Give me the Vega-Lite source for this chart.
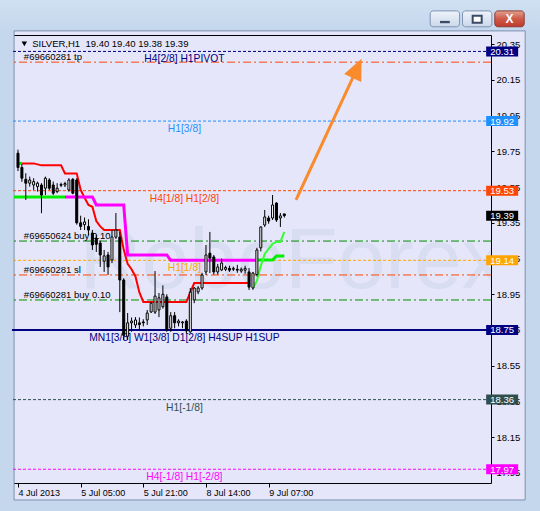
{
  "$schema": "https://vega.github.io/schema/vega-lite/v6.json",
  "width": 479,
  "height": 448,
  "autosize": {"type": "none"},
  "padding": {"left": 12, "top": 35, "right": 49, "bottom": 28},
  "background": "#E6E6FA",
  "title": {"text": "SILVER,H1", "anchor": "start", "dx": 18, "offset": 12, "fontSize": 12, "fontWeight": "normal", "font": "Liberation Sans", "color": "#1b1b1b", "zindex": 1},
  "config": {
    "view": {"stroke": "#000000", "strokeWidth": 1, "fill": "#E6E6FA"},
    "font": "Liberation Sans",
    "axis": {"grid": false, "domain": false, "tickColor": "#000000", "labelColor": "#000000", "labelFont": "Liberation Sans", "labelFlush": false, "labelOverlap": false},
    "axisX": {"tickSize": 4, "labelAlign": "left", "labelFontSize": 9, "labelPadding": 1},
    "axisY": {"tickSize": 3, "labelAlign": "left", "labelBaseline": "middle", "labelFontSize": 9.5, "labelPadding": 2}
  },
  "datasets": {
    "one": [{}],
    "candles": [
      {"i": 0, "o": 19.74, "h": 19.76, "l": 19.64, "c": 19.66},
      {"i": 1, "o": 19.66, "h": 19.68, "l": 19.58, "c": 19.60},
      {"i": 2, "o": 19.594, "h": 19.628, "l": 19.478, "c": 19.572},
      {"i": 3, "o": 19.572, "h": 19.609, "l": 19.553, "c": 19.59},
      {"i": 4, "o": 19.562, "h": 19.60, "l": 19.534, "c": 19.581},
      {"i": 5, "o": 19.553, "h": 19.581, "l": 19.525, "c": 19.572},
      {"i": 6, "o": 19.562, "h": 19.572, "l": 19.404, "c": 19.506},
      {"i": 7, "o": 19.544, "h": 19.609, "l": 19.506, "c": 19.60},
      {"i": 8, "o": 19.59, "h": 19.60, "l": 19.534, "c": 19.544},
      {"i": 9, "o": 19.562, "h": 19.581, "l": 19.506, "c": 19.516},
      {"i": 10, "o": 19.525, "h": 19.572, "l": 19.516, "c": 19.544},
      {"i": 11, "o": 19.56, "h": 19.575, "l": 19.55, "c": 19.565},
      {"i": 12, "o": 19.562, "h": 19.58, "l": 19.55, "c": 19.57},
      {"i": 13, "o": 19.534, "h": 19.60, "l": 19.525, "c": 19.59},
      {"i": 14, "o": 19.594, "h": 19.60, "l": 19.51, "c": 19.516},
      {"i": 15, "o": 19.59, "h": 19.60, "l": 19.34, "c": 19.35},
      {"i": 16, "o": 19.35, "h": 19.39, "l": 19.31, "c": 19.33},
      {"i": 17, "o": 19.34, "h": 19.38, "l": 19.31, "c": 19.355},
      {"i": 18, "o": 19.33, "h": 19.37, "l": 19.28, "c": 19.31},
      {"i": 19, "o": 19.293, "h": 19.31, "l": 19.198, "c": 19.226},
      {"i": 20, "o": 19.265, "h": 19.282, "l": 19.187, "c": 19.23},
      {"i": 21, "o": 19.237, "h": 19.25, "l": 19.103, "c": 19.17},
      {"i": 22, "o": 19.135, "h": 19.198, "l": 19.075, "c": 19.165},
      {"i": 23, "o": 19.17, "h": 19.187, "l": 19.058, "c": 19.103},
      {"i": 24, "o": 19.142, "h": 19.31, "l": 19.125, "c": 19.271},
      {"i": 25, "o": 19.27, "h": 19.405, "l": 19.26, "c": 19.31},
      {"i": 26, "o": 19.27, "h": 19.30, "l": 18.85, "c": 19.03},
      {"i": 27, "o": 19.03, "h": 19.04, "l": 18.695, "c": 18.72},
      {"i": 28, "o": 18.715, "h": 18.845, "l": 18.694, "c": 18.79},
      {"i": 29, "o": 18.79, "h": 18.82, "l": 18.74, "c": 18.80},
      {"i": 30, "o": 18.778, "h": 18.822, "l": 18.761, "c": 18.806},
      {"i": 31, "o": 18.79, "h": 18.82, "l": 18.75, "c": 18.78},
      {"i": 32, "o": 18.795, "h": 18.81, "l": 18.77, "c": 18.79},
      {"i": 33, "o": 18.806, "h": 18.862, "l": 18.778, "c": 18.845},
      {"i": 34, "o": 18.851, "h": 18.907, "l": 18.845, "c": 18.90},
      {"i": 35, "o": 18.85, "h": 19.08, "l": 18.84, "c": 18.94},
      {"i": 36, "o": 18.862, "h": 18.957, "l": 18.822, "c": 18.93},
      {"i": 37, "o": 18.88, "h": 19.0, "l": 18.87, "c": 18.95},
      {"i": 38, "o": 18.935, "h": 18.95, "l": 18.74, "c": 18.75},
      {"i": 39, "o": 18.76, "h": 18.85, "l": 18.74, "c": 18.83},
      {"i": 40, "o": 18.83, "h": 18.85, "l": 18.76, "c": 18.79},
      {"i": 41, "o": 18.79, "h": 18.81, "l": 18.77, "c": 18.80},
      {"i": 42, "o": 18.79, "h": 18.80, "l": 18.76, "c": 18.795},
      {"i": 43, "o": 18.80, "h": 18.81, "l": 18.73, "c": 18.745},
      {"i": 44, "o": 18.739, "h": 18.985, "l": 18.735, "c": 18.962},
      {"i": 45, "o": 18.918, "h": 18.99, "l": 18.90, "c": 18.985},
      {"i": 46, "o": 18.963, "h": 18.995, "l": 18.95, "c": 18.985},
      {"i": 47, "o": 18.985, "h": 19.07, "l": 18.975, "c": 19.058},
      {"i": 48, "o": 19.075, "h": 19.226, "l": 19.058, "c": 19.17},
      {"i": 49, "o": 19.18, "h": 19.299, "l": 19.069, "c": 19.153},
      {"i": 50, "o": 19.159, "h": 19.17, "l": 19.06, "c": 19.075},
      {"i": 51, "o": 19.075, "h": 19.12, "l": 19.06, "c": 19.103},
      {"i": 52, "o": 19.086, "h": 19.15, "l": 19.08, "c": 19.125},
      {"i": 53, "o": 19.09, "h": 19.11, "l": 19.08, "c": 19.10},
      {"i": 54, "o": 19.095, "h": 19.11, "l": 19.075, "c": 19.085},
      {"i": 55, "o": 19.09, "h": 19.105, "l": 19.08, "c": 19.095},
      {"i": 56, "o": 19.09, "h": 19.115, "l": 19.07, "c": 19.085},
      {"i": 57, "o": 19.08, "h": 19.10, "l": 19.07, "c": 19.09},
      {"i": 58, "o": 19.085, "h": 19.11, "l": 19.065, "c": 19.095},
      {"i": 59, "o": 19.075, "h": 19.097, "l": 18.974, "c": 18.99},
      {"i": 60, "o": 18.985, "h": 19.075, "l": 18.975, "c": 19.069},
      {"i": 61, "o": 19.06, "h": 19.21, "l": 19.05, "c": 19.198},
      {"i": 62, "o": 19.21, "h": 19.33, "l": 19.19, "c": 19.327},
      {"i": 63, "o": 19.338, "h": 19.422, "l": 19.327, "c": 19.383},
      {"i": 64, "o": 19.377, "h": 19.39, "l": 19.345, "c": 19.36},
      {"i": 65, "o": 19.377, "h": 19.506, "l": 19.366, "c": 19.45},
      {"i": 66, "o": 19.461, "h": 19.465, "l": 19.355, "c": 19.366},
      {"i": 67, "o": 19.377, "h": 19.405, "l": 19.327, "c": 19.389},
      {"i": 68, "o": 19.40, "h": 19.40, "l": 19.38, "c": 19.39}
    ],
    "bands": [
      {"band": "red", "seg": "r", "i": 1, "v": 19.683},
      {"band": "red", "seg": "r", "i": 4, "v": 19.683},
      {"band": "red", "seg": "r", "i": 6, "v": 19.672},
      {"band": "red", "seg": "r", "i": 11, "v": 19.672},
      {"band": "red", "seg": "r", "i": 12, "v": 19.627},
      {"band": "red", "seg": "r", "i": 15, "v": 19.627},
      {"band": "red", "seg": "r", "i": 16, "v": 19.535},
      {"band": "red", "seg": "r", "i": 17, "v": 19.49},
      {"band": "red", "seg": "r", "i": 18, "v": 19.45},
      {"band": "red", "seg": "r", "i": 19, "v": 19.44},
      {"band": "red", "seg": "r", "i": 20, "v": 19.36},
      {"band": "red", "seg": "r", "i": 21, "v": 19.33},
      {"band": "red", "seg": "r", "i": 22, "v": 19.31},
      {"band": "red", "seg": "r", "i": 26, "v": 19.31},
      {"band": "red", "seg": "r", "i": 27, "v": 19.20},
      {"band": "red", "seg": "r", "i": 28, "v": 19.12},
      {"band": "red", "seg": "r", "i": 29, "v": 19.09},
      {"band": "red", "seg": "r", "i": 30, "v": 19.05},
      {"band": "red", "seg": "r", "i": 31, "v": 18.96},
      {"band": "red", "seg": "r", "i": 32, "v": 18.907},
      {"band": "red", "seg": "r", "i": 43, "v": 18.907},
      {"band": "red", "seg": "r", "i": 44, "v": 18.96},
      {"band": "red", "seg": "r", "i": 45, "v": 19.013},
      {"band": "red", "seg": "r", "i": 59, "v": 19.013},
      {"band": "magenta", "seg": "m", "i": 12, "v": 19.495},
      {"band": "magenta", "seg": "m", "i": 19, "v": 19.495},
      {"band": "magenta", "seg": "m", "i": 20, "v": 19.45},
      {"band": "magenta", "seg": "m", "i": 27, "v": 19.45},
      {"band": "magenta", "seg": "m", "i": 28, "v": 19.17},
      {"band": "magenta", "seg": "m", "i": 38, "v": 19.17},
      {"band": "magenta", "seg": "m", "i": 39, "v": 19.14},
      {"band": "magenta", "seg": "m", "i": 61, "v": 19.14},
      {"band": "green", "seg": "g0", "i": 0, "v": 19.683},
      {"band": "green", "seg": "g0", "i": 1, "v": 19.683},
      {"band": "green", "seg": "g1", "i": -1, "v": 19.495},
      {"band": "green", "seg": "g1", "i": 12, "v": 19.495},
      {"band": "green", "seg": "g2", "i": 61, "v": 19.142},
      {"band": "green", "seg": "g2", "i": 65, "v": 19.142},
      {"band": "green", "seg": "g2", "i": 66, "v": 19.165},
      {"band": "green", "seg": "g2", "i": 68, "v": 19.165},
      {"band": "lime", "seg": "l", "i": 60, "v": 18.985},
      {"band": "lime", "seg": "l", "i": 61, "v": 19.025},
      {"band": "lime", "seg": "l", "i": 62, "v": 19.109},
      {"band": "lime", "seg": "l", "i": 63, "v": 19.176},
      {"band": "lime", "seg": "l", "i": 64, "v": 19.204},
      {"band": "lime", "seg": "l", "i": 65, "v": 19.232},
      {"band": "lime", "seg": "l", "i": 66, "v": 19.243},
      {"band": "lime", "seg": "l", "i": 67, "v": 19.243},
      {"band": "lime", "seg": "l", "i": 68, "v": 19.299}
    ],
    "levels": [
      {"p": 20.31, "name": "H4[2/8] H1PIVOT", "kind": "mm"},
      {"p": 20.25, "name": "#69660281 tp", "kind": "order"},
      {"p": 19.92, "name": "H1[3/8]", "kind": "mm"},
      {"p": 19.53, "name": "H4[1/8] H1[2/8]", "kind": "mm"},
      {"p": 19.248, "name": "#69650624 buy 0.10", "kind": "order"},
      {"p": 19.14, "name": "H1[1/8]", "kind": "mm"},
      {"p": 19.058, "name": "#69660281 sl", "kind": "order"},
      {"p": 18.918, "name": "#69660281 buy 0.10", "kind": "order"},
      {"p": 18.75, "name": "MN1[3/8] W1[3/8] D1[2/8] H4SUP H1SUP", "kind": "base"},
      {"p": 18.36, "name": "H1[-1/8]", "kind": "mm"},
      {"p": 17.97, "name": "H4[-1/8] H1[-2/8]", "kind": "mm"}
    ],
    "tags": [
      {"p": 20.31, "name": "H4[2/8] H1PIVOT"},
      {"p": 19.92, "name": "H1[3/8]"},
      {"p": 19.53, "name": "H4[1/8] H1[2/8]"},
      {"p": 19.39, "name": "Bid"},
      {"p": 19.14, "name": "H1[1/8]"},
      {"p": 18.75, "name": "MN1[3/8] W1[3/8] D1[2/8] H4SUP H1SUP"},
      {"p": 18.36, "name": "H1[-1/8]"},
      {"p": 17.97, "name": "H4[-1/8] H1[-2/8]"}
    ],
    "arrow": [
      {"i": 71, "p": 19.478},
      {"i": 86.6, "p": 20.215}
    ]
  },
  "layer": [
    {
      "data": {"name": "one"},
      "mark": {"type": "rect", "clip": false, "fill": {"gradient": "linear", "x1": 0, "y1": 0, "x2": 0, "y2": 1, "stops": [{"offset": 0, "color": "#DCE8F6"}, {"offset": 1, "color": "#C4D7ED"}]}},
      "encoding": {
        "x": {"datum": -5, "type": "quantitative", "scale": {"domain": [-0.25, 119.5]}, "axis": {"title": null, "orient": "bottom", "values": [0, 16, 32, 48, 64], "labelExpr": "datum.value == 0 ? '4 Jul 2013' : datum.value == 16 ? '5 Jul 05:00' : datum.value == 32 ? '5 Jul 21:00' : datum.value == 48 ? '8 Jul 14:00' : '9 Jul 07:00'"}},
        "x2": {"datum": 135},
        "y": {"datum": 20.425, "type": "quantitative", "scale": {"domain": [17.893, 20.402], "zero": false, "nice": false}, "axis": {"title": null, "orient": "right", "values": [17.95, 18.15, 18.35, 18.55, 18.75, 18.95, 19.15, 19.35, 19.55, 19.75, 19.95, 20.15, 20.35], "format": ".2f"}},
        "y2": {"datum": 20.75}
      }
    },
    {
      "data": {"name": "one"},
      "mark": {"type": "rect", "clip": false, "fill": "#C4D7ED"},
      "encoding": {
        "x": {"datum": -5, "type": "quantitative", "scale": {"domain": [-0.25, 119.5]}, "axis": {"title": null, "orient": "bottom", "values": [0, 16, 32, 48, 64], "labelExpr": "datum.value == 0 ? '4 Jul 2013' : datum.value == 16 ? '5 Jul 05:00' : datum.value == 32 ? '5 Jul 21:00' : datum.value == 48 ? '8 Jul 14:00' : '9 Jul 07:00'"}},
        "x2": {"datum": -1},
        "y": {"datum": 17.6, "type": "quantitative", "scale": {"domain": [17.893, 20.402], "zero": false, "nice": false}, "axis": {"title": null, "orient": "right", "values": [17.95, 18.15, 18.35, 18.55, 18.75, 18.95, 19.15, 19.35, 19.55, 19.75, 19.95, 20.15, 20.35], "format": ".2f"}},
        "y2": {"datum": 20.425}
      }
    },
    {
      "data": {"name": "one"},
      "mark": {"type": "rect", "clip": false, "fill": "#C4D7ED"},
      "encoding": {
        "x": {"datum": 129.5, "type": "quantitative", "scale": {"domain": [-0.25, 119.5]}, "axis": {"title": null, "orient": "bottom", "values": [0, 16, 32, 48, 64], "labelExpr": "datum.value == 0 ? '4 Jul 2013' : datum.value == 16 ? '5 Jul 05:00' : datum.value == 32 ? '5 Jul 21:00' : datum.value == 48 ? '8 Jul 14:00' : '9 Jul 07:00'"}},
        "x2": {"datum": 135},
        "y": {"datum": 17.6, "type": "quantitative", "scale": {"domain": [17.893, 20.402], "zero": false, "nice": false}, "axis": {"title": null, "orient": "right", "values": [17.95, 18.15, 18.35, 18.55, 18.75, 18.95, 19.15, 19.35, 19.55, 19.75, 19.95, 20.15, 20.35], "format": ".2f"}},
        "y2": {"datum": 20.425}
      }
    },
    {
      "data": {"name": "one"},
      "mark": {"type": "rect", "clip": false, "fill": "#C4D7ED"},
      "encoding": {
        "x": {"datum": -5, "type": "quantitative", "scale": {"domain": [-0.25, 119.5]}, "axis": {"title": null, "orient": "bottom", "values": [0, 16, 32, 48, 64], "labelExpr": "datum.value == 0 ? '4 Jul 2013' : datum.value == 16 ? '5 Jul 05:00' : datum.value == 32 ? '5 Jul 21:00' : datum.value == 48 ? '8 Jul 14:00' : '9 Jul 07:00'"}},
        "x2": {"datum": 135},
        "y": {"datum": 17.6, "type": "quantitative", "scale": {"domain": [17.893, 20.402], "zero": false, "nice": false}, "axis": {"title": null, "orient": "right", "values": [17.95, 18.15, 18.35, 18.55, 18.75, 18.95, 19.15, 19.35, 19.55, 19.75, 19.95, 20.15, 20.35], "format": ".2f"}},
        "y2": {"datum": 17.798}
      }
    },
    {
      "data": {"name": "one"},
      "mark": {"type": "rect", "clip": false, "fill": "transparent", "stroke": "#7C8FAE", "strokeWidth": 1},
      "encoding": {
        "x": {"datum": -1, "type": "quantitative", "scale": {"domain": [-0.25, 119.5]}, "axis": {"title": null, "orient": "bottom", "values": [0, 16, 32, 48, 64], "labelExpr": "datum.value == 0 ? '4 Jul 2013' : datum.value == 16 ? '5 Jul 05:00' : datum.value == 32 ? '5 Jul 21:00' : datum.value == 48 ? '8 Jul 14:00' : '9 Jul 07:00'"}},
        "x2": {"datum": 129.5},
        "y": {"datum": 17.798, "type": "quantitative", "scale": {"domain": [17.893, 20.402], "zero": false, "nice": false}, "axis": {"title": null, "orient": "right", "values": [17.95, 18.15, 18.35, 18.55, 18.75, 18.95, 19.15, 19.35, 19.55, 19.75, 19.95, 20.15, 20.35], "format": ".2f"}},
        "y2": {"datum": 20.425}
      }
    },
    {
      "data": {"name": "one"},
      "mark": {"type": "rect", "clip": false, "cornerRadius": 3, "stroke": "#7F93B2", "strokeWidth": 1, "fill": {"gradient": "linear", "x1": 0, "y1": 0, "x2": 0, "y2": 1, "stops": [{"offset": 0, "color": "#EEF3FA"}, {"offset": 1, "color": "#CBD8EA"}]}},
      "encoding": {
        "x": {"datum": 105.25, "type": "quantitative", "scale": {"domain": [-0.25, 119.5]}, "axis": {"title": null, "orient": "bottom", "values": [0, 16, 32, 48, 64], "labelExpr": "datum.value == 0 ? '4 Jul 2013' : datum.value == 16 ? '5 Jul 05:00' : datum.value == 32 ? '5 Jul 21:00' : datum.value == 48 ? '8 Jul 14:00' : '9 Jul 07:00'"}},
        "x2": {"datum": 112.75},
        "y": {"datum": 20.448, "type": "quantitative", "scale": {"domain": [17.893, 20.402], "zero": false, "nice": false}, "axis": {"title": null, "orient": "right", "values": [17.95, 18.15, 18.35, 18.55, 18.75, 18.95, 19.15, 19.35, 19.55, 19.75, 19.95, 20.15, 20.35], "format": ".2f"}},
        "y2": {"datum": 20.537}
      }
    },
    {
      "data": {"name": "one"},
      "mark": {"type": "rect", "clip": false, "cornerRadius": 3, "stroke": "#7F93B2", "strokeWidth": 1, "fill": {"gradient": "linear", "x1": 0, "y1": 0, "x2": 0, "y2": 1, "stops": [{"offset": 0, "color": "#EEF3FA"}, {"offset": 1, "color": "#CBD8EA"}]}},
      "encoding": {
        "x": {"datum": 113.5, "type": "quantitative", "scale": {"domain": [-0.25, 119.5]}, "axis": {"title": null, "orient": "bottom", "values": [0, 16, 32, 48, 64], "labelExpr": "datum.value == 0 ? '4 Jul 2013' : datum.value == 16 ? '5 Jul 05:00' : datum.value == 32 ? '5 Jul 21:00' : datum.value == 48 ? '8 Jul 14:00' : '9 Jul 07:00'"}},
        "x2": {"datum": 121},
        "y": {"datum": 20.448, "type": "quantitative", "scale": {"domain": [17.893, 20.402], "zero": false, "nice": false}, "axis": {"title": null, "orient": "right", "values": [17.95, 18.15, 18.35, 18.55, 18.75, 18.95, 19.15, 19.35, 19.55, 19.75, 19.95, 20.15, 20.35], "format": ".2f"}},
        "y2": {"datum": 20.537}
      }
    },
    {
      "data": {"name": "one"},
      "mark": {"type": "rect", "clip": false, "cornerRadius": 3, "stroke": "#8B3A33", "strokeWidth": 1, "fill": {"gradient": "linear", "x1": 0, "y1": 0, "x2": 0, "y2": 1, "stops": [{"offset": 0, "color": "#E3A08F"}, {"offset": 0.5, "color": "#CF5A48"}, {"offset": 1, "color": "#C0392B"}]}},
      "encoding": {
        "x": {"datum": 121.75, "type": "quantitative", "scale": {"domain": [-0.25, 119.5]}, "axis": {"title": null, "orient": "bottom", "values": [0, 16, 32, 48, 64], "labelExpr": "datum.value == 0 ? '4 Jul 2013' : datum.value == 16 ? '5 Jul 05:00' : datum.value == 32 ? '5 Jul 21:00' : datum.value == 48 ? '8 Jul 14:00' : '9 Jul 07:00'"}},
        "x2": {"datum": 129.25},
        "y": {"datum": 20.448, "type": "quantitative", "scale": {"domain": [17.893, 20.402], "zero": false, "nice": false}, "axis": {"title": null, "orient": "right", "values": [17.95, 18.15, 18.35, 18.55, 18.75, 18.95, 19.15, 19.35, 19.55, 19.75, 19.95, 20.15, 20.35], "format": ".2f"}},
        "y2": {"datum": 20.537}
      }
    },
    {
      "data": {"name": "one"},
      "mark": {"type": "rect", "clip": false, "fill": "#3A4A64"},
      "encoding": {
        "x": {"datum": 107.75, "type": "quantitative", "scale": {"domain": [-0.25, 119.5]}, "axis": {"title": null, "orient": "bottom", "values": [0, 16, 32, 48, 64], "labelExpr": "datum.value == 0 ? '4 Jul 2013' : datum.value == 16 ? '5 Jul 05:00' : datum.value == 32 ? '5 Jul 21:00' : datum.value == 48 ? '8 Jul 14:00' : '9 Jul 07:00'"}},
        "x2": {"datum": 110.25},
        "y": {"datum": 20.468, "type": "quantitative", "scale": {"domain": [17.893, 20.402], "zero": false, "nice": false}, "axis": {"title": null, "orient": "right", "values": [17.95, 18.15, 18.35, 18.55, 18.75, 18.95, 19.15, 19.35, 19.55, 19.75, 19.95, 20.15, 20.35], "format": ".2f"}},
        "y2": {"datum": 20.481}
      }
    },
    {
      "data": {"name": "one"},
      "mark": {"type": "rect", "clip": false, "fill": "#FFFFFF", "stroke": "#3A4A64", "strokeWidth": 2},
      "encoding": {
        "x": {"datum": 116.1, "type": "quantitative", "scale": {"domain": [-0.25, 119.5]}, "axis": {"title": null, "orient": "bottom", "values": [0, 16, 32, 48, 64], "labelExpr": "datum.value == 0 ? '4 Jul 2013' : datum.value == 16 ? '5 Jul 05:00' : datum.value == 32 ? '5 Jul 21:00' : datum.value == 48 ? '8 Jul 14:00' : '9 Jul 07:00'"}},
        "x2": {"datum": 118.4},
        "y": {"datum": 20.47, "type": "quantitative", "scale": {"domain": [17.893, 20.402], "zero": false, "nice": false}, "axis": {"title": null, "orient": "right", "values": [17.95, 18.15, 18.35, 18.55, 18.75, 18.95, 19.15, 19.35, 19.55, 19.75, 19.95, 20.15, 20.35], "format": ".2f"}},
        "y2": {"datum": 20.51}
      }
    },
    {
      "data": {"name": "one"},
      "mark": {"type": "text", "clip": false, "text": "X", "font": "Liberation Sans", "fontWeight": "bold", "fontSize": 12, "color": "#FFFFFF", "align": "center", "baseline": "middle"},
      "encoding": {
        "x": {"datum": 125.5, "type": "quantitative", "scale": {"domain": [-0.25, 119.5]}, "axis": {"title": null, "orient": "bottom", "values": [0, 16, 32, 48, 64], "labelExpr": "datum.value == 0 ? '4 Jul 2013' : datum.value == 16 ? '5 Jul 05:00' : datum.value == 32 ? '5 Jul 21:00' : datum.value == 48 ? '8 Jul 14:00' : '9 Jul 07:00'"}},
        "y": {"datum": 20.492, "type": "quantitative", "scale": {"domain": [17.893, 20.402], "zero": false, "nice": false}, "axis": {"title": null, "orient": "right", "values": [17.95, 18.15, 18.35, 18.55, 18.75, 18.95, 19.15, 19.35, 19.55, 19.75, 19.95, 20.15, 20.35], "format": ".2f"}}
      }
    },
    {
      "data": {"name": "one"},
      "mark": {"type": "text", "clip": true, "text": "RoboForex", "font": "Liberation Sans", "fontSize": 86, "color": "#D8DDF1", "align": "center", "baseline": "middle"},
      "encoding": {
        "x": {"datum": 70, "type": "quantitative", "scale": {"domain": [-0.25, 119.5]}, "axis": {"title": null, "orient": "bottom", "values": [0, 16, 32, 48, 64], "labelExpr": "datum.value == 0 ? '4 Jul 2013' : datum.value == 16 ? '5 Jul 05:00' : datum.value == 32 ? '5 Jul 21:00' : datum.value == 48 ? '8 Jul 14:00' : '9 Jul 07:00'"}},
        "y": {"datum": 19.13, "type": "quantitative", "scale": {"domain": [17.893, 20.402], "zero": false, "nice": false}, "axis": {"title": null, "orient": "right", "values": [17.95, 18.15, 18.35, 18.55, 18.75, 18.95, 19.15, 19.35, 19.55, 19.75, 19.95, 20.15, 20.35], "format": ".2f"}}
      }
    },
    {
      "data": {"name": "levels"},
      "mark": {"type": "rule", "clip": true},
      "encoding": {
        "y": {"field": "p", "type": "quantitative", "scale": {"domain": [17.893, 20.402], "zero": false, "nice": false}, "axis": {"title": null, "orient": "right", "values": [17.95, 18.15, 18.35, 18.55, 18.75, 18.95, 19.15, 19.35, 19.55, 19.75, 19.95, 20.15, 20.35], "format": ".2f"}},
        "color": {"field": "name", "type": "nominal", "legend": null, "scale": {
          "domain": ["H4[2/8] H1PIVOT", "#69660281 tp", "H1[3/8]", "H4[1/8] H1[2/8]", "#69650624 buy 0.10", "H1[1/8]", "#69660281 sl", "#69660281 buy 0.10", "MN1[3/8] W1[3/8] D1[2/8] H4SUP H1SUP", "H1[-1/8]", "H4[-1/8] H1[-2/8]", "Bid"],
          "range": ["#000080", "#FF4500", "#1E90FF", "#FF4500", "#008C00", "#FFA500", "#FF4500", "#008C00", "#000080", "#2F4F4F", "#FF00FF", "#000000"]}},
        "strokeDash": {"field": "kind", "type": "nominal", "legend": null, "scale": {"domain": ["mm", "order", "base"], "range": [[3, 2], [8, 3, 2, 3], [1, 0]]}},
        "strokeWidth": {"condition": {"test": "datum.kind == 'base'", "value": 2}, "value": 1}
      }
    },
    {
      "data": {"name": "levels"},
      "transform": [{"filter": "datum.kind != 'order'"}],
      "mark": {"type": "text", "clip": true, "font": "Liberation Sans", "fontSize": 10.3, "align": "center", "baseline": "middle", "dy": 8},
      "encoding": {
        "x": {"datum": 42.5, "type": "quantitative", "scale": {"domain": [-0.25, 119.5]}, "axis": {"title": null, "orient": "bottom", "values": [0, 16, 32, 48, 64], "labelExpr": "datum.value == 0 ? '4 Jul 2013' : datum.value == 16 ? '5 Jul 05:00' : datum.value == 32 ? '5 Jul 21:00' : datum.value == 48 ? '8 Jul 14:00' : '9 Jul 07:00'"}},
        "y": {"field": "p", "type": "quantitative", "scale": {"domain": [17.893, 20.402], "zero": false, "nice": false}, "axis": {"title": null, "orient": "right", "values": [17.95, 18.15, 18.35, 18.55, 18.75, 18.95, 19.15, 19.35, 19.55, 19.75, 19.95, 20.15, 20.35], "format": ".2f"}},
        "text": {"field": "name"},
        "color": {"field": "name", "type": "nominal", "legend": null}
      }
    },
    {
      "data": {"name": "levels"},
      "transform": [{"filter": "datum.kind == 'order'"}],
      "mark": {"type": "text", "clip": true, "font": "Liberation Sans", "fontSize": 9.5, "align": "left", "baseline": "alphabetic", "dy": -2, "color": "#000000"},
      "encoding": {
        "x": {"datum": 1.5, "type": "quantitative", "scale": {"domain": [-0.25, 119.5]}, "axis": {"title": null, "orient": "bottom", "values": [0, 16, 32, 48, 64], "labelExpr": "datum.value == 0 ? '4 Jul 2013' : datum.value == 16 ? '5 Jul 05:00' : datum.value == 32 ? '5 Jul 21:00' : datum.value == 48 ? '8 Jul 14:00' : '9 Jul 07:00'"}},
        "y": {"field": "p", "type": "quantitative", "scale": {"domain": [17.893, 20.402], "zero": false, "nice": false}, "axis": {"title": null, "orient": "right", "values": [17.95, 18.15, 18.35, 18.55, 18.75, 18.95, 19.15, 19.35, 19.55, 19.75, 19.95, 20.15, 20.35], "format": ".2f"}},
        "text": {"field": "name"}
      }
    },
    {
      "data": {"name": "bands"},
      "transform": [{"filter": "datum.band == 'red'"}],
      "mark": {"type": "line", "clip": true, "color": "#FF0000", "strokeWidth": 2},
      "encoding": {
        "x": {"field": "i", "type": "quantitative", "scale": {"domain": [-0.25, 119.5]}, "axis": {"title": null, "orient": "bottom", "values": [0, 16, 32, 48, 64], "labelExpr": "datum.value == 0 ? '4 Jul 2013' : datum.value == 16 ? '5 Jul 05:00' : datum.value == 32 ? '5 Jul 21:00' : datum.value == 48 ? '8 Jul 14:00' : '9 Jul 07:00'"}},
        "y": {"field": "v", "type": "quantitative", "scale": {"domain": [17.893, 20.402], "zero": false, "nice": false}, "axis": {"title": null, "orient": "right", "values": [17.95, 18.15, 18.35, 18.55, 18.75, 18.95, 19.15, 19.35, 19.55, 19.75, 19.95, 20.15, 20.35], "format": ".2f"}},
        "detail": {"field": "seg"}
      }
    },
    {
      "data": {"name": "bands"},
      "transform": [{"filter": "datum.band == 'magenta'"}],
      "mark": {"type": "line", "clip": true, "color": "#FF00FF", "strokeWidth": 3},
      "encoding": {
        "x": {"field": "i", "type": "quantitative", "scale": {"domain": [-0.25, 119.5]}, "axis": {"title": null, "orient": "bottom", "values": [0, 16, 32, 48, 64], "labelExpr": "datum.value == 0 ? '4 Jul 2013' : datum.value == 16 ? '5 Jul 05:00' : datum.value == 32 ? '5 Jul 21:00' : datum.value == 48 ? '8 Jul 14:00' : '9 Jul 07:00'"}},
        "y": {"field": "v", "type": "quantitative", "scale": {"domain": [17.893, 20.402], "zero": false, "nice": false}, "axis": {"title": null, "orient": "right", "values": [17.95, 18.15, 18.35, 18.55, 18.75, 18.95, 19.15, 19.35, 19.55, 19.75, 19.95, 20.15, 20.35], "format": ".2f"}},
        "detail": {"field": "seg"}
      }
    },
    {
      "data": {"name": "bands"},
      "transform": [{"filter": "datum.band == 'green'"}],
      "mark": {"type": "line", "clip": true, "color": "#00EE00", "strokeWidth": 3},
      "encoding": {
        "x": {"field": "i", "type": "quantitative", "scale": {"domain": [-0.25, 119.5]}, "axis": {"title": null, "orient": "bottom", "values": [0, 16, 32, 48, 64], "labelExpr": "datum.value == 0 ? '4 Jul 2013' : datum.value == 16 ? '5 Jul 05:00' : datum.value == 32 ? '5 Jul 21:00' : datum.value == 48 ? '8 Jul 14:00' : '9 Jul 07:00'"}},
        "y": {"field": "v", "type": "quantitative", "scale": {"domain": [17.893, 20.402], "zero": false, "nice": false}, "axis": {"title": null, "orient": "right", "values": [17.95, 18.15, 18.35, 18.55, 18.75, 18.95, 19.15, 19.35, 19.55, 19.75, 19.95, 20.15, 20.35], "format": ".2f"}},
        "detail": {"field": "seg"}
      }
    },
    {
      "data": {"name": "bands"},
      "transform": [{"filter": "datum.band == 'lime'"}],
      "mark": {"type": "line", "clip": true, "color": "#33FF33", "strokeWidth": 2},
      "encoding": {
        "x": {"field": "i", "type": "quantitative", "scale": {"domain": [-0.25, 119.5]}, "axis": {"title": null, "orient": "bottom", "values": [0, 16, 32, 48, 64], "labelExpr": "datum.value == 0 ? '4 Jul 2013' : datum.value == 16 ? '5 Jul 05:00' : datum.value == 32 ? '5 Jul 21:00' : datum.value == 48 ? '8 Jul 14:00' : '9 Jul 07:00'"}},
        "y": {"field": "v", "type": "quantitative", "scale": {"domain": [17.893, 20.402], "zero": false, "nice": false}, "axis": {"title": null, "orient": "right", "values": [17.95, 18.15, 18.35, 18.55, 18.75, 18.95, 19.15, 19.35, 19.55, 19.75, 19.95, 20.15, 20.35], "format": ".2f"}},
        "detail": {"field": "seg"}
      }
    },
    {
      "data": {"name": "candles"},
      "mark": {"type": "rule", "clip": true, "color": "#000000", "strokeWidth": 1},
      "encoding": {
        "x": {"field": "i", "type": "quantitative", "scale": {"domain": [-0.25, 119.5]}, "axis": {"title": null, "orient": "bottom", "values": [0, 16, 32, 48, 64], "labelExpr": "datum.value == 0 ? '4 Jul 2013' : datum.value == 16 ? '5 Jul 05:00' : datum.value == 32 ? '5 Jul 21:00' : datum.value == 48 ? '8 Jul 14:00' : '9 Jul 07:00'"}},
        "y": {"field": "l", "type": "quantitative", "scale": {"domain": [17.893, 20.402], "zero": false, "nice": false}, "axis": {"title": null, "orient": "right", "values": [17.95, 18.15, 18.35, 18.55, 18.75, 18.95, 19.15, 19.35, 19.55, 19.75, 19.95, 20.15, 20.35], "format": ".2f"}},
        "y2": {"field": "h"}
      }
    },
    {
      "data": {"name": "candles"},
      "mark": {"type": "bar", "clip": true, "width": 2, "stroke": "#000000", "strokeWidth": 1},
      "encoding": {
        "x": {"field": "i", "type": "quantitative", "scale": {"domain": [-0.25, 119.5]}, "axis": {"title": null, "orient": "bottom", "values": [0, 16, 32, 48, 64], "labelExpr": "datum.value == 0 ? '4 Jul 2013' : datum.value == 16 ? '5 Jul 05:00' : datum.value == 32 ? '5 Jul 21:00' : datum.value == 48 ? '8 Jul 14:00' : '9 Jul 07:00'"}},
        "y": {"field": "o", "type": "quantitative", "scale": {"domain": [17.893, 20.402], "zero": false, "nice": false}, "axis": {"title": null, "orient": "right", "values": [17.95, 18.15, 18.35, 18.55, 18.75, 18.95, 19.15, 19.35, 19.55, 19.75, 19.95, 20.15, 20.35], "format": ".2f"}},
        "y2": {"field": "c"},
        "fill": {"condition": {"test": "datum.c > datum.o", "value": "#FFFFFF"}, "value": "#000000"}
      }
    },
    {
      "data": {"name": "arrow"},
      "mark": {"type": "line", "clip": false, "color": "#F98B2C", "strokeWidth": 3},
      "encoding": {
        "x": {"field": "i", "type": "quantitative", "scale": {"domain": [-0.25, 119.5]}, "axis": {"title": null, "orient": "bottom", "values": [0, 16, 32, 48, 64], "labelExpr": "datum.value == 0 ? '4 Jul 2013' : datum.value == 16 ? '5 Jul 05:00' : datum.value == 32 ? '5 Jul 21:00' : datum.value == 48 ? '8 Jul 14:00' : '9 Jul 07:00'"}},
        "y": {"field": "p", "type": "quantitative", "scale": {"domain": [17.893, 20.402], "zero": false, "nice": false}, "axis": {"title": null, "orient": "right", "values": [17.95, 18.15, 18.35, 18.55, 18.75, 18.95, 19.15, 19.35, 19.55, 19.75, 19.95, 20.15, 20.35], "format": ".2f"}}
      }
    },
    {
      "data": {"name": "arrow"},
      "transform": [{"filter": "datum.i > 80"}],
      "mark": {"type": "point", "clip": false, "shape": "M0,-1L0.9,1L-0.9,1Z", "size": 441, "angle": 25, "filled": true, "color": "#F98B2C", "opacity": 1},
      "encoding": {
        "x": {"field": "i", "type": "quantitative", "scale": {"domain": [-0.25, 119.5]}, "axis": {"title": null, "orient": "bottom", "values": [0, 16, 32, 48, 64], "labelExpr": "datum.value == 0 ? '4 Jul 2013' : datum.value == 16 ? '5 Jul 05:00' : datum.value == 32 ? '5 Jul 21:00' : datum.value == 48 ? '8 Jul 14:00' : '9 Jul 07:00'"}},
        "y": {"field": "p", "type": "quantitative", "scale": {"domain": [17.893, 20.402], "zero": false, "nice": false}, "axis": {"title": null, "orient": "right", "values": [17.95, 18.15, 18.35, 18.55, 18.75, 18.95, 19.15, 19.35, 19.55, 19.75, 19.95, 20.15, 20.35], "format": ".2f"}}
      }
    },
    {
      "data": {"name": "one"},
      "mark": {"type": "point", "clip": false, "shape": "triangle-down", "size": 30, "filled": true, "color": "#000000", "opacity": 1},
      "encoding": {
        "x": {"datum": 1.625, "type": "quantitative", "scale": {"domain": [-0.25, 119.5]}, "axis": {"title": null, "orient": "bottom", "values": [0, 16, 32, 48, 64], "labelExpr": "datum.value == 0 ? '4 Jul 2013' : datum.value == 16 ? '5 Jul 05:00' : datum.value == 32 ? '5 Jul 21:00' : datum.value == 48 ? '8 Jul 14:00' : '9 Jul 07:00'"}},
        "y": {"datum": 20.352, "type": "quantitative", "scale": {"domain": [17.893, 20.402], "zero": false, "nice": false}, "axis": {"title": null, "orient": "right", "values": [17.95, 18.15, 18.35, 18.55, 18.75, 18.95, 19.15, 19.35, 19.55, 19.75, 19.95, 20.15, 20.35], "format": ".2f"}}
      }
    },
    {
      "data": {"name": "one"},
      "mark": {"type": "text", "clip": false, "text": "SILVER,H1\u00a0 19.40 19.40 19.38 19.39", "font": "Liberation Sans", "fontSize": 9.5, "align": "left", "baseline": "middle", "color": "#000000"},
      "encoding": {
        "x": {"datum": 3.65, "type": "quantitative", "scale": {"domain": [-0.25, 119.5]}, "axis": {"title": null, "orient": "bottom", "values": [0, 16, 32, 48, 64], "labelExpr": "datum.value == 0 ? '4 Jul 2013' : datum.value == 16 ? '5 Jul 05:00' : datum.value == 32 ? '5 Jul 21:00' : datum.value == 48 ? '8 Jul 14:00' : '9 Jul 07:00'"}},
        "y": {"datum": 20.352, "type": "quantitative", "scale": {"domain": [17.893, 20.402], "zero": false, "nice": false}, "axis": {"title": null, "orient": "right", "values": [17.95, 18.15, 18.35, 18.55, 18.75, 18.95, 19.15, 19.35, 19.55, 19.75, 19.95, 20.15, 20.35], "format": ".2f"}}
      }
    },
    {
      "data": {"name": "tags"},
      "mark": {"type": "tick", "clip": false, "orient": "horizontal", "thickness": 10, "size": 32, "opacity": 1},
      "encoding": {
        "x": {"datum": 123.625, "type": "quantitative", "scale": {"domain": [-0.25, 119.5]}, "axis": {"title": null, "orient": "bottom", "values": [0, 16, 32, 48, 64], "labelExpr": "datum.value == 0 ? '4 Jul 2013' : datum.value == 16 ? '5 Jul 05:00' : datum.value == 32 ? '5 Jul 21:00' : datum.value == 48 ? '8 Jul 14:00' : '9 Jul 07:00'"}},
        "y": {"field": "p", "type": "quantitative", "scale": {"domain": [17.893, 20.402], "zero": false, "nice": false}, "axis": {"title": null, "orient": "right", "values": [17.95, 18.15, 18.35, 18.55, 18.75, 18.95, 19.15, 19.35, 19.55, 19.75, 19.95, 20.15, 20.35], "format": ".2f"}},
        "color": {"field": "name", "type": "nominal", "legend": null}
      }
    },
    {
      "data": {"name": "tags"},
      "mark": {"type": "text", "clip": false, "font": "Liberation Sans", "fontSize": 9.5, "align": "center", "baseline": "middle", "color": "#FFFFFF", "dy": 0.5},
      "encoding": {
        "x": {"datum": 123.625, "type": "quantitative", "scale": {"domain": [-0.25, 119.5]}, "axis": {"title": null, "orient": "bottom", "values": [0, 16, 32, 48, 64], "labelExpr": "datum.value == 0 ? '4 Jul 2013' : datum.value == 16 ? '5 Jul 05:00' : datum.value == 32 ? '5 Jul 21:00' : datum.value == 48 ? '8 Jul 14:00' : '9 Jul 07:00'"}},
        "y": {"field": "p", "type": "quantitative", "scale": {"domain": [17.893, 20.402], "zero": false, "nice": false}, "axis": {"title": null, "orient": "right", "values": [17.95, 18.15, 18.35, 18.55, 18.75, 18.95, 19.15, 19.35, 19.55, 19.75, 19.95, 20.15, 20.35], "format": ".2f"}},
        "text": {"field": "p", "type": "quantitative", "format": ".2f"}
      }
    }
  ]
}
